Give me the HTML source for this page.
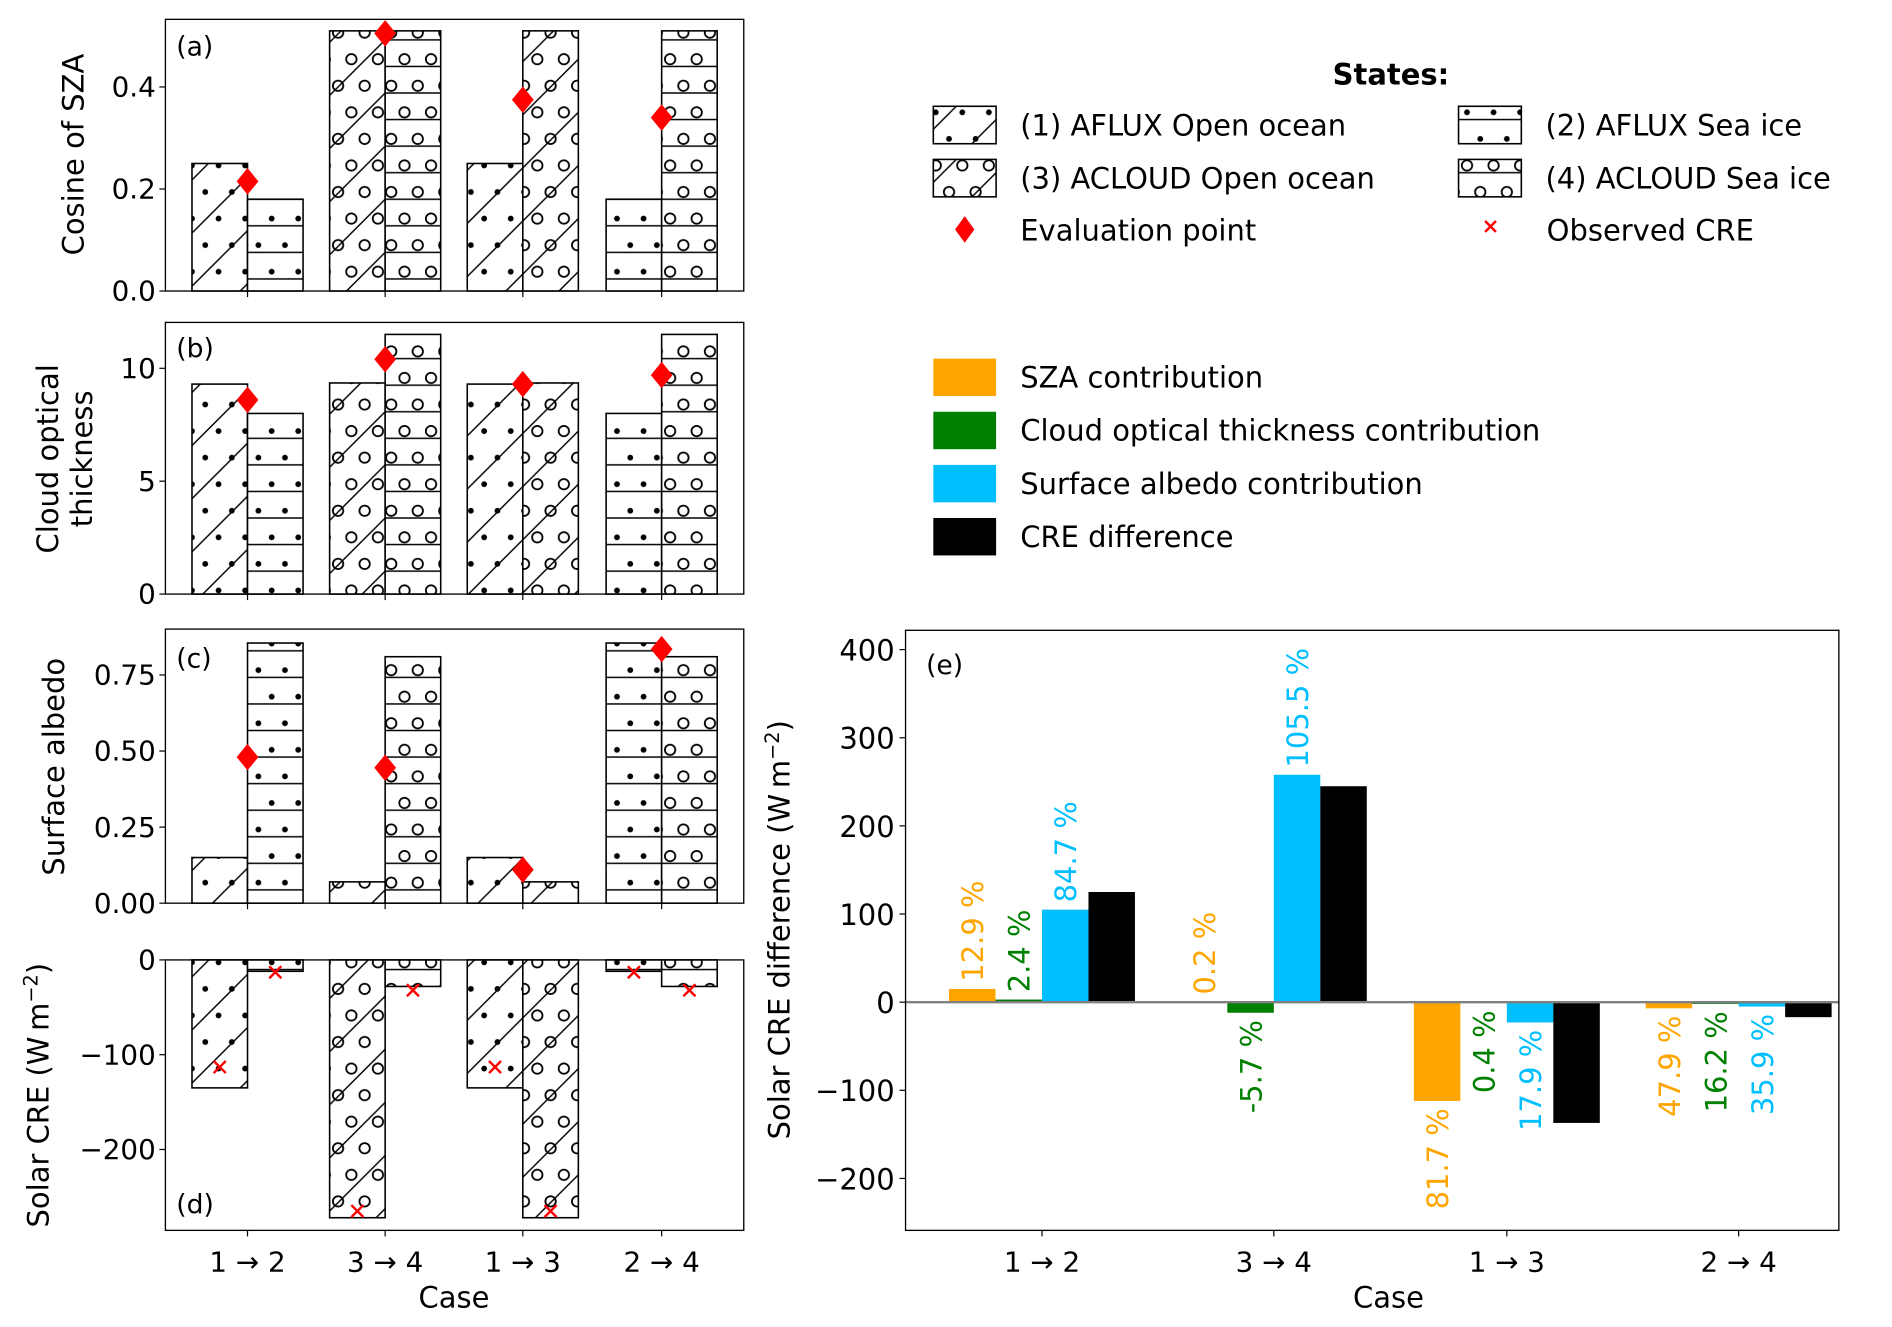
<!DOCTYPE html>
<html><head><meta charset="utf-8"><style>
html,body{margin:0;padding:0;background:#fff}
svg{display:block}
text{font-family:"DejaVu Sans","Liberation Sans",sans-serif;fill:#000}
</style></head><body>
<svg id="fig" xmlns="http://www.w3.org/2000/svg" width="1892" height="1327" viewBox="0 0 1567 1099">
<defs>
<pattern id="p-diag" patternUnits="userSpaceOnUse" width="44" height="44"><path d="M-11,11 L11,-11 M0,44 L44,0 M33,55 L55,33" stroke="#000" stroke-width="1.2"/></pattern>
<pattern id="p-horiz" patternUnits="userSpaceOnUse" width="22" height="22"><path d="M0,11 L22,11" stroke="#000" stroke-width="1.2"/></pattern>
<pattern id="p-dots" patternUnits="userSpaceOnUse" width="22" height="44"><circle cx="5" cy="5" r="2.4"/><circle cx="16" cy="27" r="2.4"/></pattern>
<pattern id="p-circ" patternUnits="userSpaceOnUse" width="22" height="44"><circle cx="5" cy="5" r="4.3" fill="none" stroke="#000" stroke-width="1.5"/><circle cx="16" cy="27" r="4.3" fill="none" stroke="#000" stroke-width="1.5"/></pattern>
</defs>
<g id="root"></g>
</svg>
<script>
// ---- data ----
const caseLabels = ["1 \u2192 2","3 \u2192 4","1 \u2192 3","2 \u2192 4"];
const casePairs = [[0,1],[2,3],[0,2],[1,3]];
const szaStates = [0.25,0.18,0.51,0.51];
const cotStates = [9.3,8.0,9.35,11.5];
const albStates = [0.15,0.855,0.07,0.81];
const creStates = [-135,-12,-272,-28];
const obsCre = [-113,-13,-265,-32];
const szaEval = [0.215,0.505,0.375,0.34];
const cotEval = [8.6,10.4,9.3,9.7];
const albEval = [0.48,0.445,0.11,0.835];
const szaContrib = [15,0.5,-112,-7];
const cotContrib = [3,-12,-1,-2];
const albContrib = [105,258,-23,-5];
const creDiff = [125,245,-137,-17];
const szaPct = ["12.9 %","0.2 %","81.7 %","47.9 %"];
const cotPct = ["2.4 %","-5.7 %","0.4 %","16.2 %"];
const albPct = ["84.7 %","105.5 %","17.9 %","35.9 %"];
const ticksA = [0.0,0.2,0.4], ticksALab=["0.0","0.2","0.4"];
const ticksB = [0,5,10], ticksBLab=["0","5","10"];
const ticksC = [0,0.25,0.5,0.75], ticksCLab=["0.00","0.25","0.50","0.75"];
const ticksD = [0,-100,-200], ticksDLab=["0","\u2212100","\u2212200"];
const ticksE = [400,300,200,100,0,-100,-200], ticksELab=["400","300","200","100","0","\u2212100","\u2212200"];

const NS="http://www.w3.org/2000/svg";
const root=document.getElementById('root');
function mk(tag,attrs,parent){const e=document.createElementNS(NS,tag);for(const k in attrs)e.setAttribute(k,attrs[k]);(parent||root).appendChild(e);return e;}
function txt(s,attrs,parent){const e=mk('text',attrs,parent);e.textContent=s;return e;}
const stateFills=[["p-diag","p-dots"],["p-horiz","p-dots"],["p-diag","p-circ"],["p-horiz","p-circ"]];
function hatchRect(x,y,w,h,s,parent,name){
  const g=mk('g',{},parent);
  
  
  mk('rect',{x:x,y:y,width:w,height:h,fill:'#fff'},g);
  stateFills[s].forEach(p=>mk('rect',{x:x,y:y,width:w,height:h,fill:'url(#'+p+')'},g));
  mk('rect',{x:x,y:y,width:w,height:h,fill:'none',stroke:'#000','stroke-width':1.3},g);
  return g;
}
const L=137,R=616,centers=[205,319,433,548],BW=46;
function xLin(i){return centers[i];}
function panel(name,top,bottom,y0v,y0,y1v,y1,states,evals,ticks,tickLab,letter,letterY,showX){
  const g=mk('g',{});
  
  
  const ys=v=>y0+(v-y0v)*(y1-y0)/(y1v-y0v);
  casePairs.forEach((pr,i)=>{
    pr.forEach((s,j)=>{
      const v=states[s];const x=xLin(i)-BW+j*BW;
      const ya=ys(v),yb=ys(0);
      hatchRect(x,Math.min(ya,yb),BW,Math.abs(yb-ya),s,g,'bar-'+name+'-case'+(i+1)+'-state'+(s+1));
    });
  });
  if(evals){evals.forEach((v,i)=>{const cx=xLin(i),cy=ys(v);
    const d=mk('path',{d:`M${cx},${cy-11} L${cx+9},${cy} L${cx},${cy+11} L${cx-9},${cy} Z`,fill:'#ff0000'},g);
    
    });}
  mk('rect',{x:L,y:top,width:R-L,height:bottom-top,fill:'none',stroke:'#000','stroke-width':1.1},g);
  ticks.forEach((t,k)=>{const y=ys(t);mk('line',{x1:L-5,x2:L,y1:y,y2:y,stroke:'#000','stroke-width':1},g);
    const tl=txt(tickLab[k],{x:L-8,y:y+8,'text-anchor':'end','font-size':23},g);
    
    });
  centers.forEach((c,i)=>{mk('line',{x1:c,x2:c,y1:bottom,y2:bottom+5,stroke:'#000','stroke-width':1},g);
    if(showX){const tl=txt(caseLabels[i],{x:c,y:bottom+34,'text-anchor':'middle','font-size':23},g);
    
    }});
  const pl=txt(letter,{x:146,y:letterY,'font-size':22},g);
  
  
  return {g,ys};
}
panel('panel-a',16,241,0,241,0.4,72,szaStates,szaEval,ticksA,ticksALab,'(a)',46,false);
panel('panel-b',267,492,0,492,10,305,cotStates,cotEval,ticksB,ticksBLab,'(b)',296,false);
panel('panel-c',521,748,0,748,0.75,559,albStates,albEval,ticksC,ticksCLab,'(c)',553,false);
const pd=panel('panel-d',795,1019,0,795,-200,952,creStates,null,ticksD,ticksDLab,'(d)',1005,true);
casePairs.forEach((pr,i)=>{pr.forEach((s,j)=>{const cx=xLin(i)-BW/2+j*BW,cy=pd.ys(obsCre[s]);
  const x=mk('path',{d:`M${cx-5},${cy-5} L${cx+5},${cy+5} M${cx-5},${cy+5} L${cx+5},${cy-5}`,stroke:'#ff0000','stroke-width':2});
  
  });});
function rotT(s,x,y,name,fs){const t=txt(s,{x:x,y:y,'text-anchor':'middle','font-size':fs||24,transform:`rotate(-90 ${x} ${y})`});
  
  return t;}
rotT('Cosine of SZA',69,128,'y-axis-title-a');
rotT('Cloud optical',48,380,'y-axis-title-b');
rotT('thickness',76,380,'y-axis-title-b2');
rotT('Surface albedo',53,635,'y-axis-title-c');
const td=rotT('',40,907,'y-axis-title-d');td.innerHTML='Solar CRE (W\u2009m<tspan dy="-9" font-size="16">\u22122</tspan><tspan dy="9">)</tspan>';
const cl1=txt('Case',{x:376,y:1083,'text-anchor':'middle','font-size':24});



// ---- panel e ----
const eL=750,eR=1523,eT=522,eB=1019;
const eCenters=[863,1055,1248,1440],eBW=38.5;
const yE=v=>830-v*0.73;
const ge=mk('g',{});


const series=[[szaContrib,'#ffa500',szaPct,'sza'],[cotContrib,'#008000',cotPct,'cot'],[albContrib,'#00bfff',albPct,'albedo'],[creDiff,'#000000',null,'cre-diff']];
series.forEach((s,k)=>{s[0].forEach((v,i)=>{const x=eCenters[i]-2*eBW+k*eBW;const ya=yE(v),yb=yE(0);
  const r=mk('rect',{x:x,y:Math.min(ya,yb),width:eBW,height:Math.max(Math.abs(yb-ya),0.5),fill:s[1]},ge);
  
  
  if(s[2]){const cx=x+eBW/2+9;let y,anchor;
    if(v>=0){y=ya-6;anchor='start';}else{y=ya+6;anchor='end';}
    const t=txt(s[2][i],{x:cx,y:y,'text-anchor':anchor,'font-size':24,fill:s[1],transform:`rotate(-90 ${cx} ${y})`},ge);
    t.style.fill=s[1];
    
    }
});});
mk('line',{x1:eL,x2:eR,y1:yE(0),y2:yE(0),stroke:'#808080','stroke-width':2},ge);
mk('rect',{x:eL,y:eT,width:eR-eL,height:eB-eT,fill:'none',stroke:'#000','stroke-width':1.1},ge);
ticksE.forEach((t,k)=>{const y=yE(t);mk('line',{x1:eL-5,x2:eL,y1:y,y2:y,stroke:'#000'},ge);
  const tl=txt(ticksELab[k],{x:eL-9,y:y+9,'text-anchor':'end','font-size':24},ge);
  
  });
eCenters.forEach((c,i)=>{mk('line',{x1:c,x2:c,y1:eB,y2:eB+5,stroke:'#000'},ge);
  const tl=txt(caseLabels[i],{x:c,y:eB+34,'text-anchor':'middle','font-size':23},ge);
  
  });
const el=txt('(e)',{x:767,y:558,'font-size':22},ge);


const te=rotT('',654,770,'y-axis-title-e');te.innerHTML='Solar CRE difference (W\u2009m<tspan dy="-9" font-size="16">\u22122</tspan><tspan dy="9">)</tspan>';
const cl2=txt('Case',{x:1150,y:1083,'text-anchor':'middle','font-size':24});



// ---- legends ----
const lg=mk('g',{});


const st=txt('States:',{x:1152,y:70,'text-anchor':'middle','font-size':24,'font-weight':'bold'},lg);


const stateNames=['(1) AFLUX Open ocean','(2) AFLUX Sea ice','(3) ACLOUD Open ocean','(4) ACLOUD Sea ice'];
stateNames.forEach((n,s)=>{const col=s%2,row=Math.floor(s/2);const px=col?1208:773,py=row?132:88;
  hatchRect(px,py,52,31,s,lg,'legend-patch-state'+(s+1));
  const t=txt(n,{x:px+72,y:py+24,'font-size':24},lg);
  
  });
mk('path',{d:'M799,179 L807,190 L799,201 L791,190 Z',fill:'#ff0000'},lg);
const le1=txt('Evaluation point',{x:845,y:199,'font-size':24},lg);


mk('path',{d:'M1230,183 L1239,192 M1230,192 L1239,183',stroke:'#ff0000','stroke-width':2},lg);
const le2=txt('Observed CRE',{x:1281,y:199,'font-size':24},lg);


const cg=mk('g',{});


[['SZA contribution','#ffa500'],['Cloud optical thickness contribution','#008000'],['Surface albedo contribution','#00bfff'],['CRE difference','#000000']].forEach((e,k)=>{
  const y=297+k*44;mk('rect',{x:773,y:y,width:52,height:31,fill:e[1]},cg);
  const t=txt(e[0],{x:845,y:y+24,'font-size':24},cg);
  
  });
</script>
</body></html>
